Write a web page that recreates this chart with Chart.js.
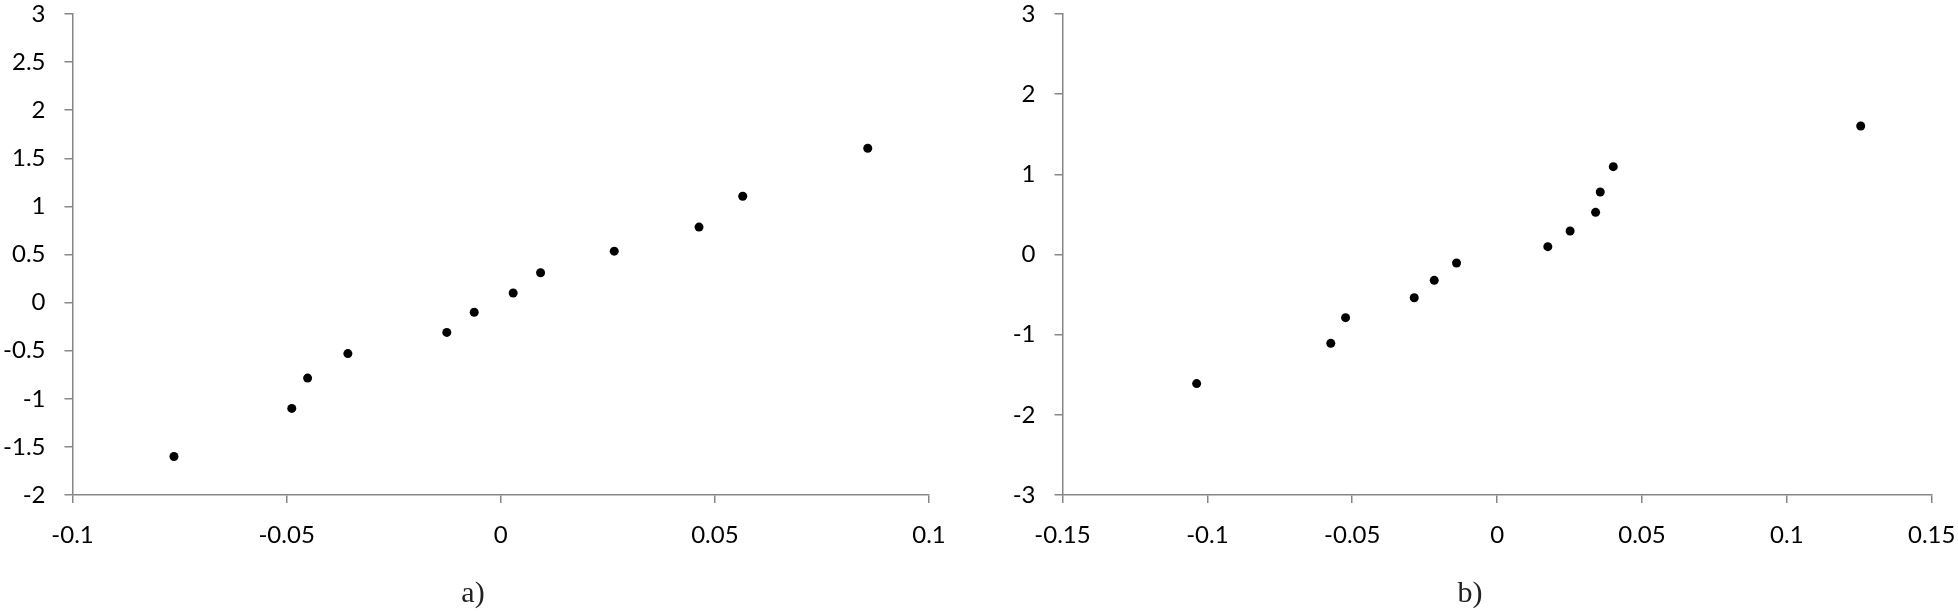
<!DOCTYPE html>
<html>
<head>
<meta charset="utf-8">
<script src="https://cdn.jsdelivr.net/npm/chart.js@4/dist/chart.umd.min.js"></script>
<style>
  html, body { margin: 0; padding: 0; background: #fff; }
  #wrap { position: relative; width: 1958px; height: 611px; overflow: hidden; }
  canvas { position: absolute; top: 0; }
  #chartA { left: 0; }
  #chartB { left: 990px; }
</style>
</head>
<body>
<div id="wrap">
  <canvas id="chartA" width="980" height="611"></canvas>
  <canvas id="chartB" width="968" height="611"></canvas>
</div>
<script>
/* ============================================================
   DATA
   ============================================================ */
const aX = [-0.0763, -0.0488, -0.0451, -0.0357, -0.0126, -0.0062, 0.0029, 0.0093, 0.0265, 0.0463, 0.0565, 0.0857];
const aY = [-1.60, -1.10, -0.785, -0.53, -0.31, -0.10, 0.10, 0.31, 0.535, 0.785, 1.105, 1.605];

const bX = [-0.1037, -0.0574, -0.0523, -0.0286, -0.0217, -0.0140, 0.0175, 0.0252, 0.0340, 0.0356, 0.0401, 0.1255];
const bY = [-1.61, -1.108, -0.788, -0.539, -0.322, -0.106, 0.098, 0.293, 0.526, 0.780, 1.096, 1.603];

const aXTicks = ['-0.1', '-0.05', '0', '0.05', '0.1'];
const aYTicks = ['-2', '-1.5', '-1', '-0.5', '0', '0.5', '1', '1.5', '2', '2.5', '3'];
const bXTicks = ['-0.15', '-0.1', '-0.05', '0', '0.05', '0.1', '0.15'];
const bYTicks = ['-3', '-2', '-1', '0', '1', '2', '3'];

const captionA = 'a)';
const captionB = 'b)';

/* ── shared look ── */
const AXIS_GREY  = '#868686';
const TICK_FONT  = { family: 'Lato', size: 24 };

Chart.defaults.font.family = 'Lato';
Chart.defaults.color       = '#000';

function toPoints(xs, ys) {
  return xs.map((x, i) => ({ x: x, y: ys[i] }));
}

// pick label from the tick-label list by value (ticks go low -> high)
function tickLabel(list, min, step) {
  return (v) => {
    const i = Math.round((v - min) / step);
    return list[i] !== undefined ? list[i] : String(+v.toFixed(3));
  };
}

/**
 * makeScatter(canvas, opts)
 * opts.padRight   = layout padding right (moves the caption centre)
 * opts.areaRight  = gap between plot right edge and canvas edge
 */
function makeScatter(canvas, o) {
  return new Chart(canvas.getContext('2d'), {
    type: 'scatter',
    data: {
      datasets: [{
        data:            toPoints(o.xs, o.ys),
        backgroundColor: '#000',
        borderWidth:     0,
        pointRadius:     4.5,
        pointHoverRadius:4.5
      }]
    },
    options: {
      responsive: false,
      animation:  false,
      devicePixelRatio: 1,
      layout: { padding: { left: 0, top: 14, right: o.padRight, bottom: 0 } },
      plugins: {
        legend:  { display: false },
        tooltip: { enabled: false },
        title: {
          display:  true,
          position: 'bottom',
          text:     o.caption,
          color:    '#222',
          font:     { family: "'Liberation Serif', serif", size: 30, weight: 'normal', lineHeight: 1.1 },
          padding:  { top: 15.6, bottom: 0 }
        }
      },
      scales: {
        x: {
          type: 'linear',
          min:  o.xMin,
          max:  o.xMax,
          border: { display: true, color: AXIS_GREY, width: 1.5 },
          grid: {
            drawOnChartArea: false,
            drawTicks:       true,
            tickLength:      8,
            color:           AXIS_GREY,
            lineWidth:       1.5
          },
          ticks: {
            stepSize: 0.05,
            padding:  18,
            font:     TICK_FONT,
            color:    '#000',
            maxRotation: 0,
            autoSkip: false,
            callback: tickLabel(o.xTicks, o.xMin, 0.05)
          },
          afterFit(scale) {
            scale.height       = 67.4;
            scale.paddingLeft  = 0;
            scale.paddingRight = o.areaRight;
          }
        },
        y: {
          type: 'linear',
          min:  o.yMin,
          max:  o.yMax,
          border: { display: true, color: AXIS_GREY, width: 1.5 },
          grid: {
            drawOnChartArea: false,
            drawTicks:       true,
            tickLength:      8,
            color:           AXIS_GREY,
            lineWidth:       1.5
          },
          ticks: {
            stepSize: o.yStep,
            padding:  19,
            font:     TICK_FONT,
            color:    '#000',
            autoSkip: false,
            callback: tickLabel(o.yTicks, o.yMin, o.yStep)
          },
          afterFit(scale) {
            scale.width         = 72.5;
            scale.paddingTop    = 0;
            scale.paddingBottom = 0;
          }
        }
      }
    }
  });
}

/* ── a) ── */
makeScatter(document.getElementById('chartA'), {
  xs: aX, ys: aY, caption: captionA,
  xMin: -0.1, xMax: 0.1, yMin: -2, yMax: 3, yStep: 0.5,
  xTicks: aXTicks, yTicks: aYTicks,
  padRight: 34, areaRight: 51
});

/* ── b) ── */
makeScatter(document.getElementById('chartB'), {
  xs: bX, ys: bY, caption: captionB,
  xMin: -0.15, xMax: 0.15, yMin: -3, yMax: 3, yStep: 1,
  xTicks: bXTicks, yTicks: bYTicks,
  padRight: 8, areaRight: 26.3
});
</script>
</body>
</html>
